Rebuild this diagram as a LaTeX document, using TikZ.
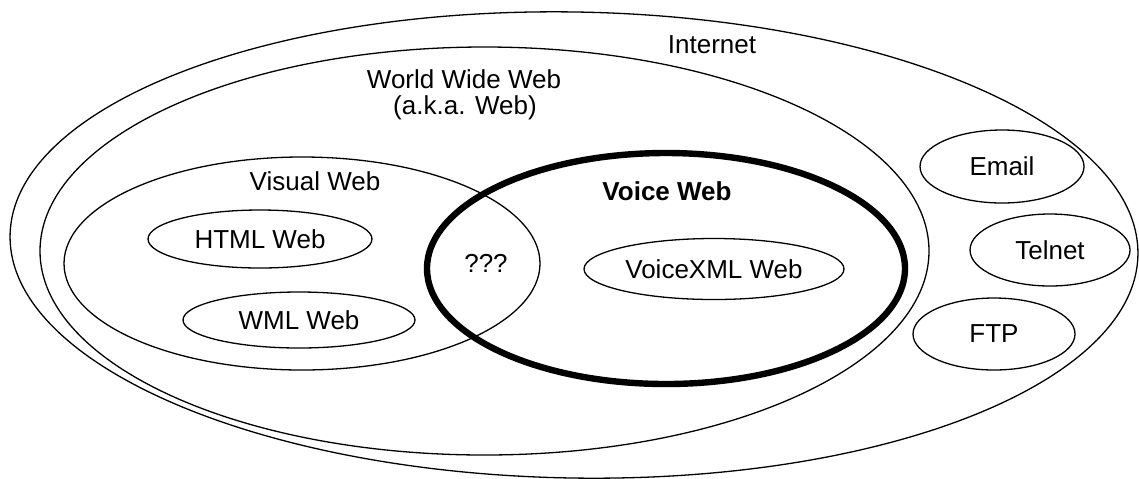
\documentclass[tikz,border=0pt]{standalone}
\usepackage{fontspec}
\setmainfont{Liberation Sans}
\usetikzlibrary{shapes.geometric}
\begin{document}
\begin{tikzpicture}[x=0.5pt,y=-0.5pt,
  area/.style={ellipse,draw,line width=0.65pt,inner sep=0pt},
  oval/.style={ellipse,draw,line width=0.65pt,inner sep=0pt,
               font=\fontsize{13pt}{15pt}\selectfont},
  lbl/.style={font=\fontsize{13pt}{15pt}\selectfont,anchor=base,inner sep=0pt}]
\useasboundingbox (0,0) rectangle (1139,478);

% nested regions
\node[area,minimum width=564pt,minimum height=233pt,rotate=-1] (internet) at (574,245) {};
\node[area,minimum width=444.5pt,minimum height=204pt] (www) at (484.5,251) {};
\node[area,minimum width=238pt,minimum height=106.5pt] (visual) at (302,263.5) {};
\node[area,line width=3.2pt,minimum width=239pt,minimum height=115.5pt] (voice) at (666,268.5) {};

% region captions
\node[lbl] (internetlbl) at (712,53.3) {Internet};
\node[lbl] (wwwlbl) at (464,88.3) {World Wide Web};
\node[lbl] (akalbl) at (465,114) {(a.k.a. Web)};
\node[lbl] (visuallbl) at (315,190.5) {Visual Web};
\node[lbl,font=\fontsize{13pt}{15pt}\selectfont\bfseries] (voicelbl) at (667,200) {Voice Web};
\node[lbl] (overlaplbl) at (486,272) {???};

% member technologies
\node[oval,minimum width=112pt,minimum height=29pt] (html) at (260,239) {HTML Web};
\node[oval,minimum width=116pt,minimum height=28pt] (wml) at (299,320) {WML Web};
\node[oval,minimum width=130pt,minimum height=30.5pt] (vxml) at (714,269) {VoiceXML Web};
\node[oval,minimum width=82pt,minimum height=36.5pt] (email) at (1002,166.5) {Email};
\node[oval,minimum width=80pt,minimum height=36pt] (telnet) at (1050,250) {Telnet};
\node[oval,minimum width=81pt,minimum height=36pt] (ftp) at (994,334) {FTP};
\end{tikzpicture}
\end{document}
